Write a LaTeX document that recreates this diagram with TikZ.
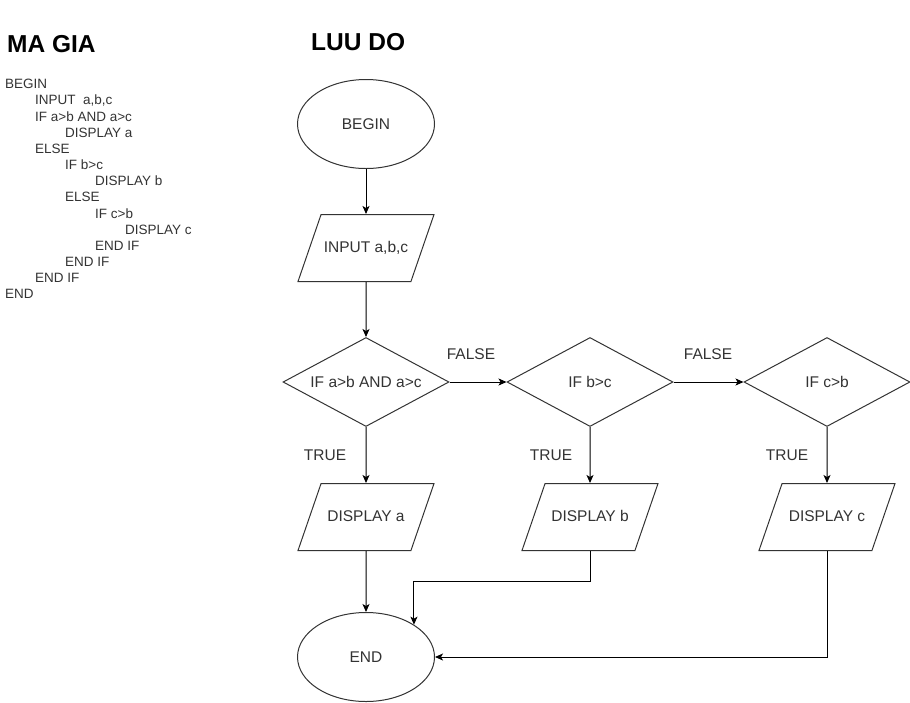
\documentclass[tikz,border=0pt]{standalone}
\usepackage{fontspec}
\setmainfont{Liberation Sans}
\usetikzlibrary{arrows.meta, shapes.geometric}
\definecolor{inkgray}{HTML}{333333}

\tikzset{
  arr/.style={draw=black, line width=1pt, -{Stealth[length=8pt, width=7pt, inset=2pt]}},
  startstop/.style={ellipse, draw=inkgray, line width=1pt,
    minimum width=137pt, minimum height=89pt, inner sep=0pt},
  iobox/.style={trapezium, trapezium left angle=71, trapezium right angle=109,
    trapezium stretches body=true, draw=inkgray, line width=1pt,
    text height=11pt, text depth=3pt, inner ysep=26.5pt, inner xsep=0pt,
    minimum width=136pt},
  decision/.style={diamond, aspect=1.87, draw=inkgray, line width=1pt,
    minimum width=166pt, minimum height=89pt, inner sep=0pt},
  edgelbl/.style={inner sep=0pt}
}

\begin{document}
\begin{tikzpicture}[x=1pt, y=-1pt, text=inkgray, font=\fontsize{15.5}{18}\selectfont]
  \useasboundingbox (0,0) rectangle (910,702);

  % Titles
  \node[anchor=west, inner sep=0pt, text=black, font=\fontsize{24.5}{28}\selectfont\bfseries]
    (titleMG) at (7,44) {MA GIA};
  \node[anchor=west, inner sep=0pt, text=black, font=\fontsize{24.5}{28}\selectfont\bfseries]
    (titleLD) at (311,42) {LUU DO};

  % Pseudocode (indent level / line)
  \foreach \lvl/\txt [count=\i] in {0/BEGIN, 1/{INPUT\ \ a,b,c}, 1/{IF a>b AND a>c},
      2/DISPLAY a, 1/ELSE, 2/IF b>c, 3/DISPLAY b, 2/ELSE, 3/IF c>b, 4/DISPLAY c,
      3/END IF, 2/END IF, 1/END IF, 0/END} {
    \node[anchor=base west, inner sep=0pt, font=\fontsize{13.5}{16}\selectfont]
      (ps\i) at ({5+30*\lvl}, {88.8+16.15*(\i-1)}) {\txt};
  }

  % Flowchart
  \node[startstop] (start) at (366,124) {BEGIN};
  \node[iobox]     (input) at (366,248) {INPUT a,b,c};
  \node[decision]  (ifA)   at (366,382) {IF a>b AND a>c};
  \node[decision]  (ifB)   at (590,382) {IF b>c};
  \node[decision]  (ifC)   at (827,382) {IF c>b};
  \node[iobox]     (dispA) at (366,517) {DISPLAY a};
  \node[iobox]     (dispB) at (590,517) {DISPLAY b};
  \node[iobox]     (dispC) at (827,517) {DISPLAY c};
  \node[startstop] (stop)  at (366,657) {END};

  % Branch labels
  \node[edgelbl] (fA) at (471,354) {FALSE};
  \node[edgelbl] (fB) at (708,354) {FALSE};
  \node[edgelbl] (tA) at (325,455) {TRUE};
  \node[edgelbl] (tB) at (551,455) {TRUE};
  \node[edgelbl] (tC) at (787,455) {TRUE};

  % Connectors
  \draw[arr] (start) -- (input);
  \draw[arr] (input) -- (ifA);
  \draw[arr] (ifA.east) -- (ifB.west);
  \draw[arr] (ifB.east) -- (ifC.west);
  \draw[arr] (ifA.south) -- (dispA.north);
  \draw[arr] (ifB.south) -- (dispB.north);
  \draw[arr] (ifC.south) -- (dispC.north);
  \draw[arr] (dispA.south) -- (stop.north);
  \path (stop.34) ++(0,-43) coordinate (bendB);
  \draw[arr] (dispB.south) |- (bendB) -- (stop.34);
  \draw[arr] (dispC.south) |- (stop.east);
\end{tikzpicture}
\end{document}
